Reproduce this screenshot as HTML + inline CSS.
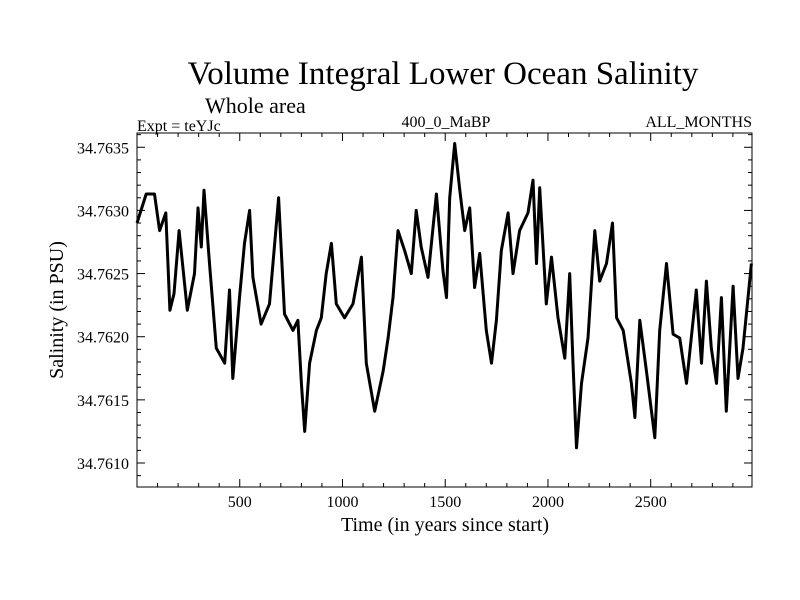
<!DOCTYPE html>
<html><head><meta charset="utf-8"><style>body{margin:0;background:#fff}svg{display:block}text{font-family:"Liberation Serif",serif;fill:#000}</style></head>
<body>
<svg id="c" width="800" height="600">
<text x="443" y="84" font-size="33" text-anchor="middle">Volume Integral Lower Ocean Salinity</text>
<text x="205" y="113" font-size="22">Whole area</text>
<text x="137" y="131" font-size="16">Expt = teYJc</text>
<text x="446" y="127" font-size="16" text-anchor="middle">400_0_MaBP</text>
<text x="752" y="127" font-size="16" text-anchor="end">ALL_MONTHS</text>
<text x="445" y="531" font-size="20" text-anchor="middle">Time (in years since start)</text>
<text transform="translate(63,310) rotate(-90)" font-size="20" text-anchor="middle">Salinity (in PSU)</text>
<rect x="137" y="133" width="615" height="354" fill="none" stroke="#000" stroke-width="1"/>
<g id="ax"></g>
<polyline id="line" fill="none" stroke="#000" stroke-width="3" stroke-linejoin="round"/>
</svg>
<script>
const years=[0,45,85,110,140,160,180,205,245,280,297,313,326,353,386,427,450,466,499,523,548,564,604,645,689,718,759,783,800,816,840,873,897,921,946,970,1010,1051,1092,1116,1157,1198,1222,1246,1270,1303,1335,1359,1383,1416,1457,1489,1506,1522,1546,1571,1595,1619,1643,1668,1700,1725,1749,1773,1806,1830,1862,1903,1927,1944,1960,1992,2017,2049,2082,2106,2122,2139,2163,2195,2228,2252,2285,2314,2334,2366,2406,2423,2447,2479,2520,2544,2577,2609,2641,2674,2722,2747,2771,2795,2820,2844,2868,2901,2925,2949,2990];
const salinity=[34.76290,34.76313,34.76313,34.76284,34.76298,34.76221,34.76234,34.76284,34.76221,34.76250,34.76302,34.76271,34.76316,34.76258,34.76191,34.76179,34.76237,34.76167,34.76231,34.76274,34.76300,34.76247,34.76210,34.76226,34.76310,34.76218,34.76205,34.76213,34.76163,34.76125,34.76179,34.76205,34.76215,34.76250,34.76274,34.76226,34.76215,34.76226,34.76263,34.76179,34.76141,34.76173,34.76199,34.76231,34.76284,34.76268,34.76250,34.76300,34.76271,34.76247,34.76313,34.76252,34.76231,34.76310,34.76353,34.76316,34.76284,34.76302,34.76239,34.76266,34.76205,34.76179,34.76213,34.76268,34.76298,34.76250,34.76284,34.76298,34.76324,34.76258,34.76318,34.76226,34.76263,34.76215,34.76183,34.76250,34.76179,34.76112,34.76163,34.76199,34.76284,34.76244,34.76258,34.76290,34.76215,34.76205,34.76163,34.76136,34.76213,34.76173,34.76120,34.76205,34.76258,34.76202,34.76199,34.76163,34.76237,34.76179,34.76244,34.76191,34.76163,34.76231,34.76141,34.76240,34.76167,34.76191,34.76258];
const xTicks=[500,1000,1500,2000,2500];
const yTicks=[34.7610,34.7615,34.7620,34.7625,34.7630,34.7635];
const X0=137,X1=752,Y0=487,Y1=133;
const xMin=0,xMax=2993,yMin=34.76081,yMax=34.763613;
const sx=v=>X0+(v-xMin)/(xMax-xMin)*(X1-X0);
const sy=v=>Y0-(v-yMin)/(yMax-yMin)*(Y0-Y1);
const NS="http://www.w3.org/2000/svg",ax=document.getElementById('ax');
function ln(x1,y1,x2,y2){const l=document.createElementNS(NS,'line');l.setAttribute('x1',x1);l.setAttribute('y1',y1);l.setAttribute('x2',x2);l.setAttribute('y2',y2);l.setAttribute('stroke','#000');


ax.appendChild(l);}
function tx(x,y,s,a,n){const t=document.createElementNS(NS,'text');t.setAttribute('x',x);t.setAttribute('y',y);t.setAttribute('font-size','16');t.setAttribute('text-anchor',a);t.textContent=s;


ax.appendChild(t);}
for(let v=100;v<xMax;v+=100){const x=sx(v),m=v%500===0,L=m?8:4;ln(x,Y0,x,Y0-L);ln(x,Y1,x,Y1+L);}
xTicks.forEach(v=>tx(sx(v),507,String(v),'middle','x-tick-label'));
for(let k=0;k<=27;k++){const v=34.7609+k*0.0001;if(v<yMin||v>yMax)continue;const y=sy(v),m=Math.abs(((v-34.7610)/0.0005)-Math.round((v-34.7610)/0.0005))<1e-6,L=m?8:4;ln(X0,y,X0+L,y);ln(X1,y,X1-L,y);}
yTicks.forEach(v=>tx(129,sy(v)+6,v.toFixed(4),'end','y-tick-label'));
document.getElementById('line').setAttribute('points',years.map((t,i)=>sx(t).toFixed(1)+','+sy(salinity[i]).toFixed(1)).join(' '));
</script>
</body></html>
